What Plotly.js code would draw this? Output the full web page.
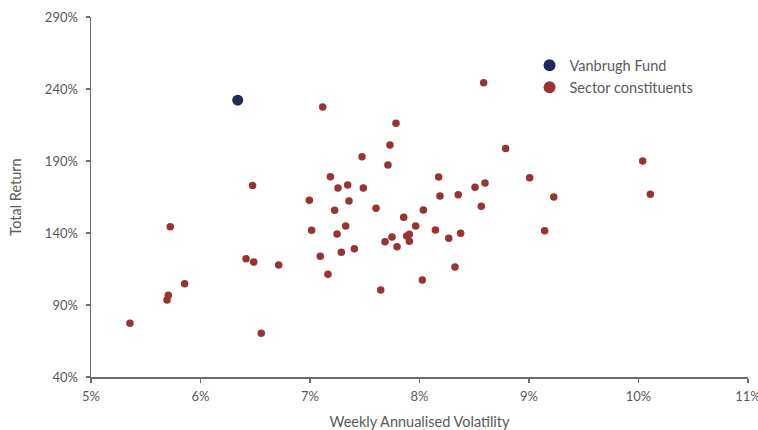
<!DOCTYPE html>
<html>
<head>
<meta charset="utf-8">
<script src="https://cdn.plot.ly/plotly-3.0.1.min.js"></script>
<style>html,body{margin:0;padding:0;background:#fff;}#chart{width:758px;height:430px;}</style>
</head>
<body>
<div id="chart"></div>
<script>
// Values in percent
const fundName = "Vanbrugh Fund";
const fundVol = [6.34];
const fundRet = [232.2];

const sectorName = "Sector constituents";
const sectorVol = [7.116, 6.476, 5.724, 7.475, 7.186, 7.256, 7.344, 7.487, 6.994, 7.356,
  7.225, 7.603, 7.015, 7.326, 7.247, 7.685, 7.405, 7.286, 7.094, 6.416,
  6.486, 6.714, 7.164, 7.646, 5.855, 5.706, 5.694, 5.356, 6.555, 7.73,
  7.712, 8.586, 7.785, 8.787, 9.006, 8.175, 8.507, 8.598, 8.187, 8.354,
  8.564, 8.035, 7.856, 7.965, 8.145, 8.376, 8.267, 7.883, 7.907, 7.907,
  7.749, 7.795, 8.026, 8.324, 10.038, 10.108, 9.226, 9.143];
const sectorRet = [227.5, 172.9, 144.4, 193.0, 179.1, 171.3, 173.3, 171.3, 162.7, 162.2,
  155.8, 157.2, 141.9, 144.9, 139.3, 134.0, 129.1, 126.6, 123.8, 122.2,
  119.9, 117.8, 111.3, 100.4, 104.8, 96.7, 93.5, 77.3, 70.3, 201.1,
  187.2, 244.4, 216.2, 198.6, 178.4, 178.9, 171.7, 174.7, 165.7, 166.6,
  158.5, 156.0, 150.9, 144.9, 142.1, 139.8, 136.3, 137.9, 139.1, 134.2,
  137.2, 130.5, 107.4, 116.4, 190.0, 166.9, 165.0, 141.6];

const xTicks = [5, 6, 7, 8, 9, 10, 11];
const yTicks = [40, 90, 140, 190, 240, 290];
const xTitle = "Weekly Annualised Volatility";
const yTitle = "Total Return";

const gray = "#595959";
const axisCol = "#6b6b6b";

const traces = [
  {
    x: fundVol, y: fundRet, name: fundName, type: "scatter", mode: "markers",
    marker: {color: "#1f2a5c", size: 11}
  },
  {
    x: sectorVol, y: sectorRet, name: sectorName, type: "scatter", mode: "markers",
    marker: {color: "#983333", size: 7.5}
  }
];

const layout = {
  width: 758, height: 430,
  margin: {l: 91, r: 10, t: 17, b: 53},
  paper_bgcolor: "#fff", plot_bgcolor: "#fff",
  font: {family: "Lato, 'Open Sans', sans-serif", size: 13, color: gray},
  showlegend: true,
  legend: {
    x: 0.6675, y: 0.91, xanchor: "left", yanchor: "top",
    font: {size: 14.5, color: gray},
    itemsizing: "constant", tracegroupgap: 0, bgcolor: "rgba(0,0,0,0)"
  },
  xaxis: {
    range: [5, 11], tickvals: xTicks, ticktext: xTicks.map(v => v + "%"),
    showgrid: false, zeroline: false, showline: true, linecolor: axisCol, linewidth: 1.5,
    ticks: "outside", ticklen: 4, tickcolor: axisCol, tickwidth: 1.5,
    ticklabelstandoff: 3, ticklabeloverflow: "allow",
    title: {text: xTitle, font: {size: 14.5, color: gray}, standoff: 14},
    tickfont: {size: 13, color: gray}
  },
  yaxis: {
    range: [40, 290], tickvals: yTicks, ticktext: yTicks.map(v => v + "%"),
    showgrid: false, zeroline: false, showline: true, linecolor: axisCol, linewidth: 1.5,
    ticks: "outside", ticklen: 4, tickcolor: axisCol, tickwidth: 1.5,
    ticklabelstandoff: 5, ticklabeloverflow: "allow",
    title: {text: yTitle, font: {size: 14.5, color: gray}, standoff: 20},
    tickfont: {size: 13, color: gray}
  }
};

Plotly.newPlot("chart", traces, layout, {displayModeBar: false, staticPlot: true});
</script>
</body>
</html>
